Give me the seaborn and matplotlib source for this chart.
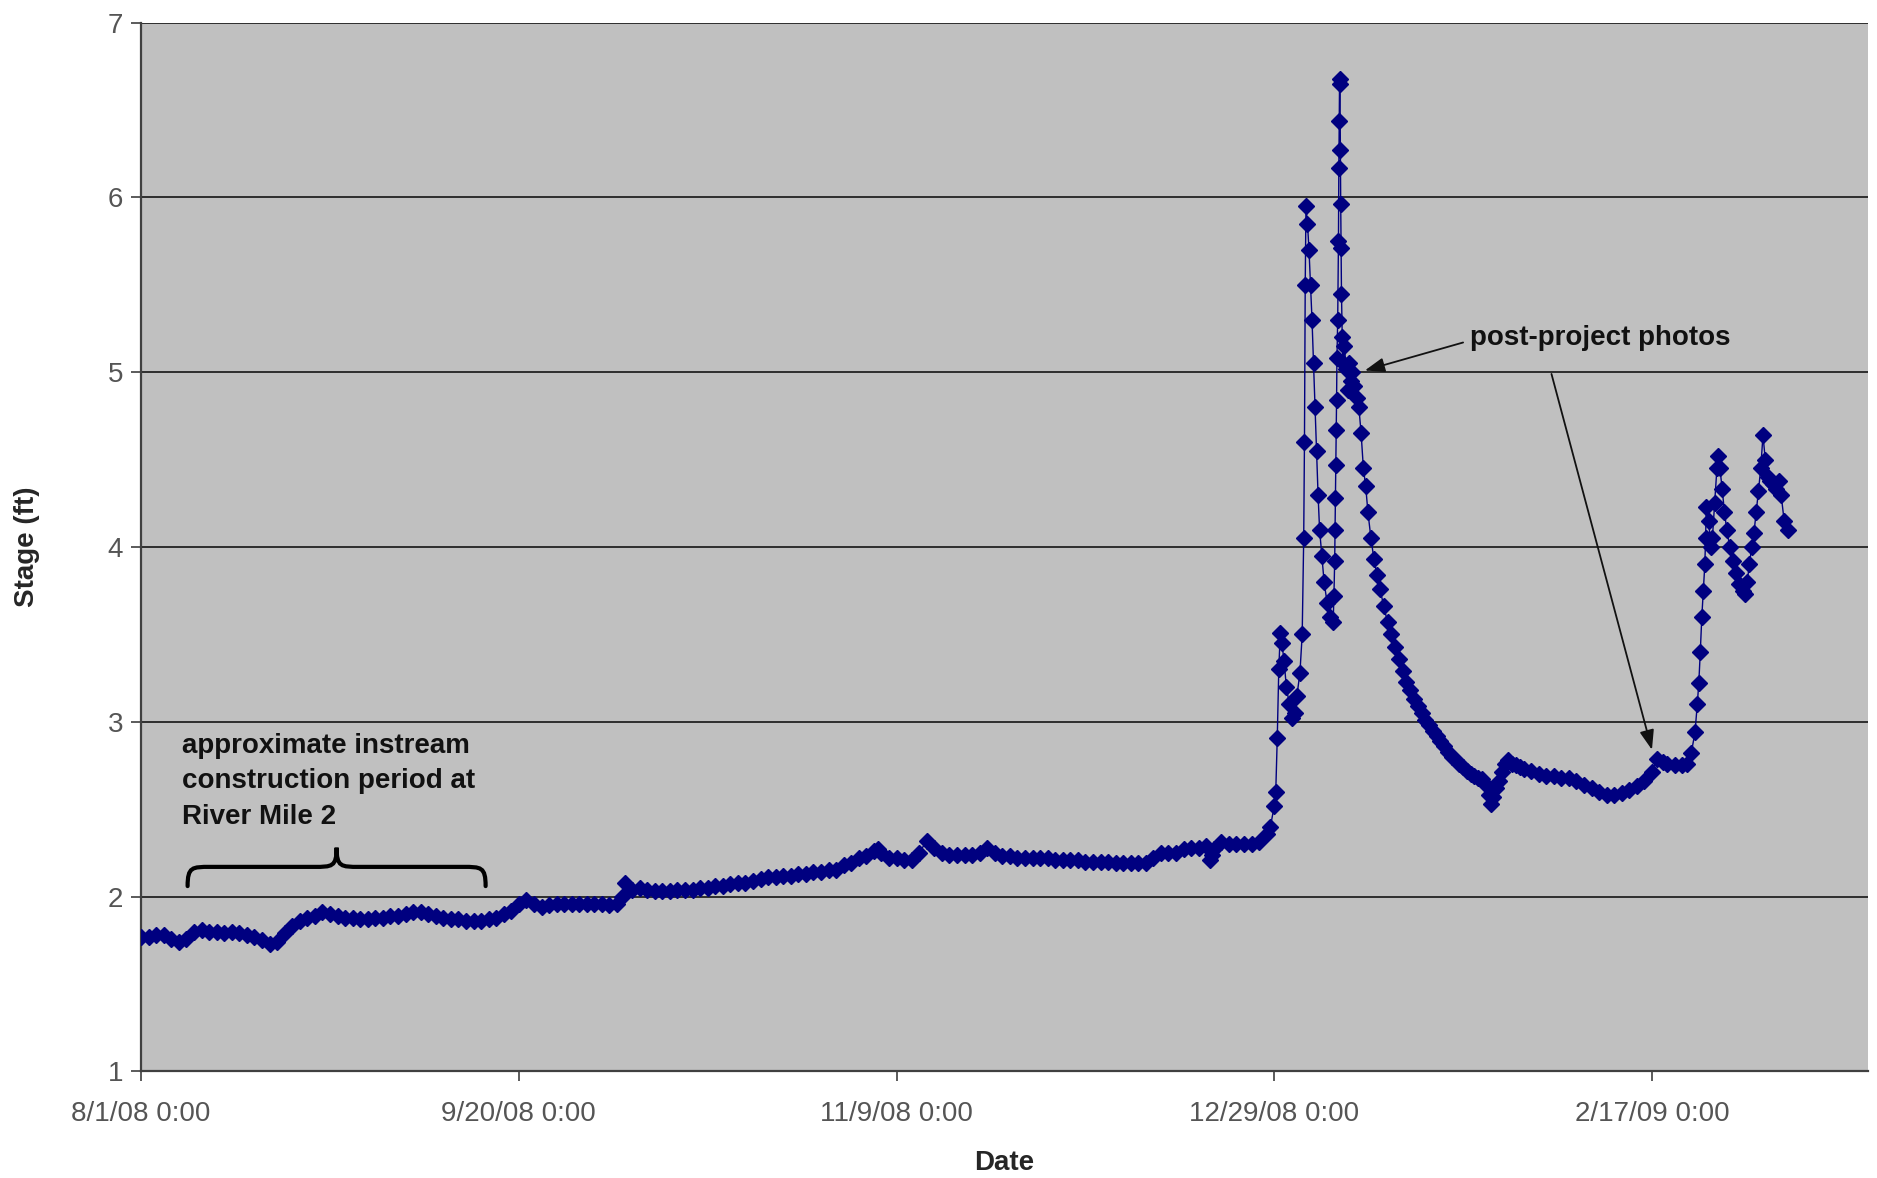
import matplotlib
matplotlib.use('Agg')
import matplotlib.pyplot as plt
import matplotlib.dates as mdates
from matplotlib.path import Path
from matplotlib.patches import PathPatch
import seaborn as sns
import pandas as pd

start = pd.Timestamp('2008-08-01')

# one reading per day, days 0..149 after 8/1/08
daily_stage = [
    1.77, 1.77, 1.78, 1.78, 1.76, 1.74, 1.76, 1.80, 1.81, 1.80,
    1.80, 1.79, 1.80, 1.79, 1.78, 1.77, 1.75, 1.73, 1.74, 1.79,
    1.83, 1.86, 1.88, 1.89, 1.91, 1.90, 1.89, 1.88, 1.88, 1.87,
    1.87, 1.88, 1.88, 1.89, 1.89, 1.90, 1.91, 1.91, 1.90, 1.89,
    1.88, 1.87, 1.87, 1.86, 1.86, 1.86, 1.87, 1.88, 1.90, 1.92,
    1.96, 1.98, 1.96, 1.94, 1.95, 1.96, 1.96, 1.96, 1.96, 1.96,
    1.96, 1.96, 1.95, 1.96, 2.08, 2.04, 2.05, 2.04, 2.03, 2.03,
    2.03, 2.04, 2.04, 2.04, 2.05, 2.05, 2.06, 2.06, 2.07, 2.08,
    2.08, 2.09, 2.10, 2.11, 2.11, 2.12, 2.12, 2.13, 2.13, 2.14,
    2.14, 2.15, 2.15, 2.18, 2.19, 2.22, 2.23, 2.26, 2.25, 2.22,
    2.22, 2.21, 2.21, 2.25, 2.32, 2.28, 2.25, 2.24, 2.24, 2.24,
    2.24, 2.25, 2.28, 2.25, 2.23, 2.23, 2.22, 2.22, 2.22, 2.22,
    2.22, 2.21, 2.21, 2.21, 2.21, 2.20, 2.20, 2.20, 2.20, 2.19,
    2.19, 2.19, 2.19, 2.19, 2.22, 2.25, 2.25, 2.25, 2.27, 2.28,
    2.28, 2.29, 2.27, 2.31, 2.30, 2.30, 2.30, 2.30, 2.31, 2.36,
]

# a few in-between readings (small jumps and dips)
extra_days = [63.6, 97.6, 141.5, 141.7, 149.5]
extra_stage = [2.00, 2.27, 2.21, 2.24, 2.40]

# storm season, irregular reading times (days after 8/1/08)
storm_days = [
    150.0, 150.2, 150.4, 150.6, 150.8, 151.0, 151.3, 151.6, 152.0, 152.4,
    152.7, 153.0, 153.4, 153.7, 153.9, 154.0, 154.1, 154.2, 154.4, 154.6,
    154.8, 155.0, 155.2, 155.4, 155.6, 155.8, 156.0, 156.3, 156.6, 157.0,
    157.4, 157.8, 157.9, 158.0, 158.05, 158.1, 158.15, 158.2, 158.25, 158.3,
    158.4, 158.5, 158.55, 158.6, 158.65, 158.7, 158.75, 158.8, 158.85, 158.9,
    159.0, 159.1, 159.3, 159.5, 159.7, 159.9, 160.1, 160.3, 160.6, 160.9,
    161.2, 161.5, 161.8, 162.1, 162.4, 162.8, 163.2, 163.6, 164.0, 164.5,
    165.0, 165.5, 166.0, 166.5, 167.0, 167.5, 168.0, 168.5, 169.0, 169.5,
    170.0, 170.5, 171.0, 171.5, 172.0, 172.5, 173.0, 173.5, 174.0, 174.5,
    175.0, 175.5, 176.0, 176.5, 177.0, 177.5, 178.0, 178.4, 178.7, 179.0,
    179.4, 179.8, 180.2, 180.6, 181.0, 181.5, 182.0, 182.5, 183.0, 184.0,
    185.0, 186.0, 187.0, 188.0, 189.0, 190.0, 191.0, 192.0, 193.0, 194.0,
    195.0, 196.0, 197.0, 198.0, 199.0, 200.0, 200.7, 201.5, 202.0, 203.0,
    204.0, 204.6, 205.2, 205.7, 206.0, 206.2, 206.4, 206.6, 206.8, 207.0,
    207.1, 207.2, 207.5, 207.8, 208.0, 208.3, 208.6, 208.8, 209.0, 209.3,
    209.6, 209.9, 210.3, 210.7, 211.1, 211.5, 212.0, 212.3, 212.6, 212.9,
    213.2, 213.5, 213.8, 214.1, 214.4, 214.7, 215.0, 215.3, 215.6, 216.0,
    216.4, 216.8, 217.1, 217.5, 218.0,
]
storm_stage = [
    2.52, 2.60, 2.91, 3.30, 3.51, 3.45, 3.35, 3.20, 3.10, 3.02,
    3.05, 3.15, 3.28, 3.50, 4.05, 4.60, 5.50, 5.95, 5.85, 5.70,
    5.50, 5.30, 5.05, 4.80, 4.55, 4.30, 4.10, 3.95, 3.80, 3.68,
    3.60, 3.57, 3.72, 3.92, 4.10, 4.28, 4.47, 4.67, 4.84, 5.08,
    5.30, 5.75, 6.17, 6.44, 6.68, 6.65, 6.27, 5.96, 5.71, 5.45,
    5.20, 5.05, 5.15, 5.02, 4.90, 5.05, 4.95, 5.00, 4.92, 4.85,
    4.80, 4.65, 4.45, 4.35, 4.20, 4.05, 3.93, 3.84, 3.76, 3.66,
    3.57, 3.50, 3.43, 3.36, 3.29, 3.23, 3.18, 3.13, 3.09, 3.05,
    3.01, 2.98, 2.95, 2.92, 2.89, 2.86, 2.83, 2.80, 2.78, 2.76,
    2.74, 2.72, 2.70, 2.69, 2.68, 2.67, 2.64, 2.58, 2.53, 2.57,
    2.62, 2.66, 2.71, 2.76, 2.78, 2.76, 2.75, 2.74, 2.73, 2.72,
    2.70, 2.69, 2.69, 2.68, 2.68, 2.66, 2.64, 2.62, 2.60, 2.58,
    2.58, 2.59, 2.61, 2.63, 2.66, 2.71, 2.79, 2.77, 2.76, 2.75,
    2.75, 2.76, 2.82, 2.94, 3.10, 3.22, 3.40, 3.60, 3.75, 3.90,
    4.05, 4.23, 4.15, 4.00, 4.05, 4.25, 4.45, 4.52, 4.45, 4.33,
    4.20, 4.10, 4.00, 3.92, 3.85, 3.79, 3.75, 3.73, 3.80, 3.90,
    4.00, 4.08, 4.20, 4.32, 4.45, 4.64, 4.50, 4.40, 4.38, 4.36,
    4.33, 4.38, 4.30, 4.15, 4.10,
]

tick_days = [0, 50, 100, 150, 200]
tick_labels = ['8/1/08 0:00', '9/20/08 0:00', '11/9/08 0:00', '12/29/08 0:00', '2/17/09 0:00']
y_ticks = [1, 2, 3, 4, 5, 6, 7]

days = list(range(len(daily_stage))) + extra_days + storm_days
stage = daily_stage + extra_stage + storm_stage
df = pd.DataFrame({'day': days, 'stage': stage}).sort_values('day')
df['date'] = start + pd.to_timedelta(df['day'], unit='D')


def dnum(d):
    return mdates.date2num(start + pd.Timedelta(days=d))


sns.set_style('white')
plt.rcParams['font.family'] = ['Liberation Sans', 'DejaVu Sans']

fig = plt.figure(figsize=(18.77, 11.78), dpi=100)
ax = fig.add_axes([0.0752, 0.0905, 0.9200, 0.8903])
ax.set_facecolor('#c0c0c0')
ax.set_axisbelow(True)

sns.lineplot(data=df, x='date', y='stage', ax=ax, color='#000080', linewidth=1.0,
             marker='D', markersize=8.5, markeredgecolor='#000080', markeredgewidth=1,
             zorder=3)

ax.set_xlim(dnum(0), dnum(228.6))
ax.set_ylim(1, 7)
ax.set_yticks(y_ticks)
ax.set_xticks([dnum(d) for d in tick_days])
ax.set_xticklabels(tick_labels)
ax.yaxis.grid(True, color='#222222', linewidth=1.3)
ax.xaxis.grid(False)

for s in ['top', 'right']:
    ax.spines[s].set_visible(False)
for s in ['left', 'bottom']:
    ax.spines[s].set_color('#404040')
    ax.spines[s].set_linewidth(1.6)

ax.tick_params(axis='y', left=True, direction='out', length=7, width=1.2, color='#404040',
               labelsize=20, labelcolor='#555555', pad=6)
ax.tick_params(axis='x', bottom=True, direction='out', length=7, width=1.2, color='#404040',
               labelsize=20, labelcolor='#555555', pad=14)

ax.set_xlabel('Date', fontsize=20, fontweight='bold', va='center')
ax.xaxis.set_label_coords(0.5, -0.0878)
ax.set_ylabel('Stage (ft)', fontsize=20, fontweight='bold', va='center', ha='center')
ax.yaxis.set_label_coords(-0.066, 0.5)

# construction period note and brace (va='baseline' sits on the last line)
ax.text(dnum(5.35), 2.417, 'approximate instream\nconstruction period at\nRiver Mile 2',
        fontsize=20, fontweight='bold', color='#111111', va='baseline', ha='left',
        linespacing=1.48)

b0, b1 = 6.15, 45.6
bm = (b0 + b1) / 2
r = 3.0
y_end, y_bar, y_tip = 2.06, 2.17, 2.28
brace_pts = [
    (b0, y_end), (b0, y_bar), (b0 + 0.2 * r, y_bar), (b0 + r, y_bar),
    (bm - r, y_bar),
    (bm - 0.2 * r, y_bar), (bm, y_bar), (bm, y_tip),
    (bm, y_bar), (bm + 0.2 * r, y_bar), (bm + r, y_bar),
    (b1 - r, y_bar),
    (b1 - 0.2 * r, y_bar), (b1, y_bar), (b1, y_end),
]
codes = [Path.MOVETO, Path.CURVE4, Path.CURVE4, Path.CURVE4, Path.LINETO,
         Path.CURVE4, Path.CURVE4, Path.CURVE4, Path.CURVE4, Path.CURVE4, Path.CURVE4,
         Path.LINETO, Path.CURVE4, Path.CURVE4, Path.CURVE4]
brace = Path([(dnum(x), y) for x, y in brace_pts], codes)
ax.add_patch(PathPatch(brace, facecolor='none', edgecolor='black', linewidth=3.0,
                       capstyle='round', zorder=4))

# post-project photos note with two arrows
ax.text(dnum(175.9), 5.155, 'post-project photos', fontsize=20, fontweight='bold',
        color='#111111', va='baseline', ha='left')
arrow = dict(arrowstyle='-|>,head_length=0.6,head_width=0.22', color='#111111', lw=1.3,
             shrinkA=0, shrinkB=0, mutation_scale=20)
ax.annotate('', xy=(dnum(162.0), 5.01), xytext=(dnum(175.0), 5.17), arrowprops=arrow, zorder=5)
ax.annotate('', xy=(dnum(200.0), 2.84), xytext=(dnum(186.7), 4.99), arrowprops=arrow, zorder=5)

fig.savefig('out.png', dpi=100, facecolor='white')
